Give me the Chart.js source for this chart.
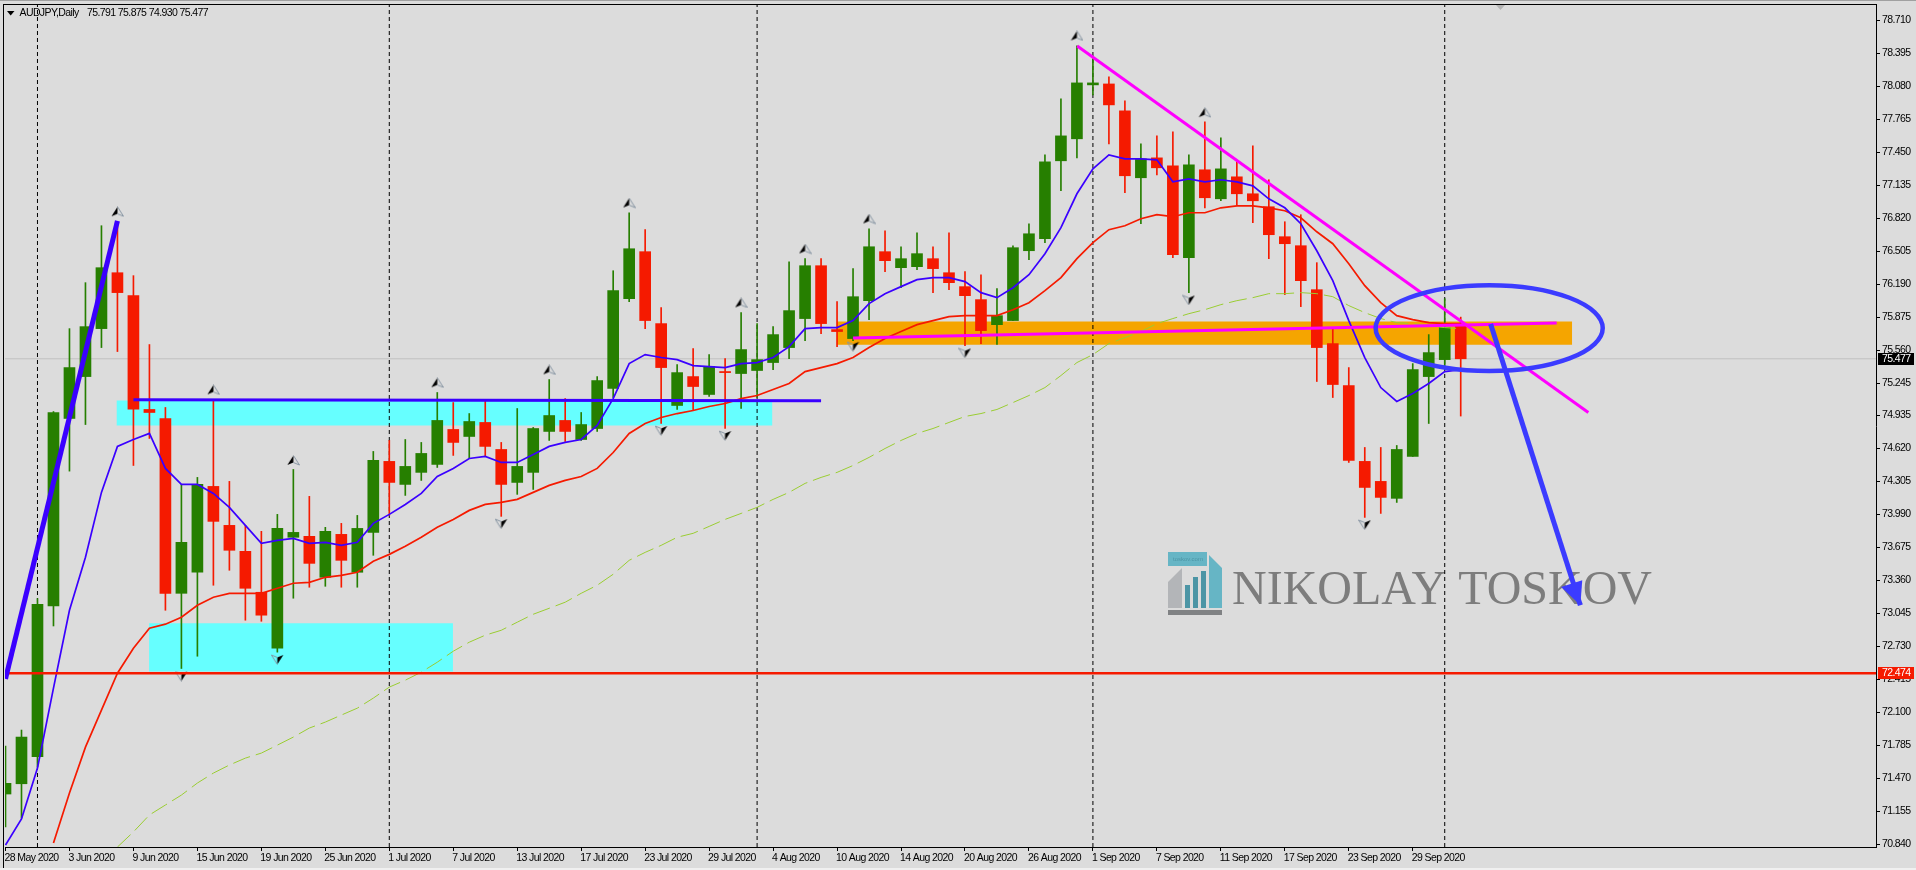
<!DOCTYPE html>
<html>
<head>
<meta charset="utf-8">
<title>AUDJPY Daily</title>
<script src="https://cdn.jsdelivr.net/npm/chart.js@4/dist/chart.umd.min.js"></script>
<style>
    html, body { margin: 0; padding: 0; background: #dcdcdc; overflow: hidden; }
    canvas { display: block; }
</style>
</head>
<body>
<canvas id="priceChart" width="1916" height="870"></canvas>
<script>
// Candles, one value per daily bar
const opens = [71.320,71.418,71.676,73.116,74.907,75.307,75.765,76.299,76.080,74.993,74.907,73.237,73.438,74.258,73.886,73.638,73.247,72.713,73.772,73.781,73.390,73.800,73.438,73.819,74.497,74.277,74.392,74.468,74.802,74.735,74.869,74.611,74.296,74.392,74.783,74.888,74.706,74.811,75.193,76.051,76.500,75.813,75.031,75.307,75.136,75.355,75.336,75.365,75.441,75.584,75.861,76.366,75.756,75.670,76.032,76.500,76.347,76.357,76.433,76.299,76.166,76.042,75.803,75.842,76.509,76.624,77.368,77.578,78.093,78.102,77.845,77.206,77.396,77.320,76.442,77.282,77.005,77.215,77.053,76.929,76.643,76.557,76.137,75.622,75.221,74.497,74.306,74.144,74.544,75.307,75.469,75.791];
const highs = [71.778,71.931,73.187,74.973,75.765,76.204,76.748,76.776,76.271,75.613,75.012,74.277,74.344,75.078,74.306,73.886,73.829,73.991,74.420,74.163,73.867,73.905,73.981,74.592,74.697,74.706,74.678,75.155,75.059,74.954,75.078,74.678,75.002,74.821,75.279,75.097,74.964,75.307,76.318,76.872,76.710,75.966,75.422,75.574,75.517,75.479,75.918,75.813,75.784,76.404,76.433,76.433,76.023,76.338,76.719,76.700,76.547,76.681,76.547,76.681,76.309,76.280,76.147,76.557,76.767,77.425,77.959,78.465,78.350,78.169,77.940,77.530,77.606,77.644,77.425,77.740,77.587,77.368,77.511,77.187,76.786,76.853,76.395,75.765,75.393,74.630,74.630,74.649,75.431,75.708,76.051,75.875];
const lows = [71.005,71.091,71.580,72.925,74.404,74.849,75.584,75.546,74.458,74.716,73.075,72.519,72.636,73.314,73.457,72.980,72.970,72.675,73.190,73.295,73.304,73.295,73.295,73.600,73.981,74.172,74.315,74.439,74.554,74.525,74.544,73.972,74.182,74.229,74.697,74.687,74.697,74.783,75.107,76.023,75.765,74.859,74.993,74.983,75.117,74.811,75.002,75.107,75.374,75.479,75.651,75.717,75.593,75.651,75.851,76.309,76.156,76.328,76.109,76.137,75.603,75.622,75.613,75.842,76.423,76.586,77.082,77.396,77.997,77.530,77.063,76.767,77.234,76.442,76.109,76.919,76.986,76.948,76.776,76.433,76.090,75.975,75.260,75.107,74.487,73.962,74.000,74.105,74.544,74.859,75.393,74.930];
const closes = [71.422,71.864,73.132,74.964,75.393,75.784,76.347,76.109,74.995,74.964,73.237,73.724,74.277,73.924,73.648,73.285,73.028,73.857,73.819,73.523,73.829,73.552,73.857,74.506,74.296,74.449,74.573,74.888,74.678,74.878,74.640,74.277,74.449,74.811,74.935,74.783,74.849,75.269,76.128,76.528,75.842,75.393,75.345,75.212,75.403,75.345,75.565,75.469,75.708,75.937,76.366,75.813,75.737,76.070,76.547,76.414,76.433,76.481,76.338,76.204,76.080,75.746,75.889,76.538,76.671,77.358,77.606,78.112,78.112,77.902,77.225,77.387,77.301,76.471,77.330,77.015,77.291,77.053,76.986,76.662,76.576,76.223,75.584,75.231,74.506,74.248,74.153,74.611,75.374,75.536,75.775,75.477];

// Moving averages, null where the line has not started yet
const fastMA = [70.833,71.082,71.568,72.331,73.075,73.581,74.201,74.640,74.706,74.764,74.430,74.277,74.277,74.191,74.058,73.886,73.714,73.743,73.762,73.714,73.724,73.695,73.724,73.905,73.991,74.086,74.191,74.353,74.430,74.525,74.544,74.487,74.487,74.563,74.640,74.678,74.706,74.840,75.097,75.431,75.517,75.489,75.469,75.412,75.403,75.393,75.431,75.441,75.489,75.593,75.765,75.775,75.775,75.842,76.004,76.099,76.166,76.233,76.252,76.252,76.214,76.109,76.061,76.156,76.280,76.481,76.729,77.053,77.291,77.425,77.387,77.387,77.377,77.167,77.196,77.167,77.187,77.167,77.129,77.005,76.919,76.767,76.509,76.223,75.842,75.489,75.202,75.069,75.145,75.241,75.355,75.374];
const midMA = [null,null,null,70.852,71.330,71.768,72.121,72.474,72.713,72.903,72.942,73.008,73.123,73.199,73.237,73.237,73.237,73.285,73.333,73.342,73.390,73.409,73.438,73.543,73.609,73.686,73.772,73.867,73.943,74.029,74.086,74.105,74.134,74.201,74.268,74.315,74.353,74.430,74.582,74.764,74.859,74.916,74.954,74.983,75.021,75.050,75.097,75.126,75.183,75.241,75.355,75.393,75.431,75.489,75.584,75.670,75.737,75.803,75.842,75.880,75.889,75.889,75.889,75.946,76.013,76.128,76.252,76.433,76.586,76.710,76.748,76.814,76.853,76.834,76.872,76.872,76.919,76.938,76.938,76.919,76.891,76.824,76.690,76.576,76.385,76.175,76.013,75.889,75.851,75.822,75.813,75.813];
const slowMA = [null,null,null,null,null,null,null,70.814,70.958,71.120,71.215,71.310,71.425,71.520,71.597,71.663,71.711,71.787,71.864,71.950,72.007,72.074,72.140,72.236,72.341,72.407,72.484,72.579,72.684,72.770,72.837,72.884,72.961,73.037,73.094,73.152,73.237,73.314,73.419,73.552,73.628,73.695,73.772,73.810,73.876,73.943,74.000,74.058,74.134,74.201,74.287,74.344,74.392,74.458,74.535,74.620,74.697,74.764,74.811,74.869,74.926,74.954,74.993,75.059,75.126,75.202,75.317,75.441,75.517,75.622,75.679,75.737,75.813,75.861,75.908,75.946,75.994,76.032,76.061,76.099,76.099,76.109,76.099,76.070,75.985,75.918,75.861,75.822,75.813,75.794,75.775,75.765];

// Fractal arrows: bar number and price
const fractalUpBars = [7,13,18,27,34,39,46,50,54,67,75];
const fractalUpPrices = [76.881,75.180,74.506,75.247,75.371,76.964,76.010,76.525,76.812,78.560,77.828];
const fractalDownBars = [11,17,31,41,45,53,60,74,85];
const fractalDownPrices = [72.446,72.605,73.902,74.792,74.744,75.596,75.533,76.039,73.893];

// Axis labels
const dateBars = [0,4,8,12,16,20,24,28,32,36,40,44,48,52,56,60,64,68,72,76,80,84,88];
const dateLabels = ["28 May 2020","3 Jun 2020","9 Jun 2020","15 Jun 2020","19 Jun 2020","25 Jun 2020","1 Jul 2020","7 Jul 2020","13 Jul 2020","17 Jul 2020","23 Jul 2020","29 Jul 2020","4 Aug 2020","10 Aug 2020","14 Aug 2020","20 Aug 2020","26 Aug 2020","1 Sep 2020","7 Sep 2020","11 Sep 2020","17 Sep 2020","23 Sep 2020","29 Sep 2020"];
const priceTicks = [78.710,78.395,78.080,77.765,77.450,77.135,76.820,76.505,76.190,75.875,75.560,75.245,74.935,74.620,74.305,73.990,73.675,73.360,73.045,72.730,72.415,72.100,71.785,71.470,71.155,70.840];
const monthBars = [2,24,47,68,90];

// Levels and drawings, in bar number and price
const lastPrice = 75.477;
const supportPrice = 72.474;
const cyanTopZone = { from: 6.94, to: 47.96, top: 75.078, bottom: 74.840 };
const cyanLowZone = { from: 8.98, to: 27.98, top: 72.951, bottom: 72.490 };
const orangeZone = { from: 51.97, to: 97.97, top: 75.832, bottom: 75.612 };
const blueLevel = [{ x: 8, y: 75.085 }, { x: 51, y: 75.075 }];
const blueTrend = [{ x: 0, y: 72.42 }, { x: 7, y: 76.795 }];
const pinkTrend = [{ x: 67.02, y: 78.465 }, { x: 98.98, y: 74.964 }];
const pinkLevel = [{ x: 53, y: 75.676 }, { x: 97, y: 75.819 }];
const circle = { x: 92.78, y: 75.77, rx: 7.1, ry: 0.41 };
const forecast = { from: { x: 92.87, y: 75.81 }, tip: { x: 98.48, y: 73.122 }, wingA: { x: 97.28, y: 73.297 }, wingB: { x: 98.6, y: 73.361 } };

const yMin = 70.814;
const yMax = 78.856;

const GREEN = "#267f00";
const RED = "#f51a00";
const DRAW_BLUE = "#3b3bff";
const axisFont = { family: "'Liberation Sans', sans-serif", size: 10.5 };
const fontText = "10.5px 'Liberation Sans', sans-serif";

const candleColors = closes.map((c, i) => (c >= opens[i] ? GREEN : RED));

function maPoints(values) {
    return values.map((v, i) => ({ x: i, y: v }));
}

function zoneDataset(zone, color) {
    return {
        type: "line",
        data: [{ x: zone.from, y: zone.top }, { x: zone.to, y: zone.top }],
        borderWidth: 0,
        pointRadius: 0,
        backgroundColor: color,
        fill: { value: zone.bottom },
        order: 100
    };
}

function drawingDataset(points, color, width, order) {
    return {
        type: "line",
        data: points,
        borderColor: color,
        borderWidth: width,
        pointRadius: 0,
        tension: 0,
        order: order
    };
}

// Small arrow glyph used for the fractals
function makeFractalGlyph() {
    const c = document.createElement("canvas");
    c.width = 13;
    c.height = 11;
    const g = c.getContext("2d");
    g.beginPath();
    g.moveTo(6.5, 0.5);
    g.lineTo(0.5, 10);
    g.lineTo(6.5, 7.5);
    g.closePath();
    g.fillStyle = "#000";
    g.fill();
    g.beginPath();
    g.moveTo(6.5, 0.5);
    g.lineTo(12.5, 10);
    g.lineTo(6.5, 7.5);
    g.strokeStyle = "#8795a3";
    g.lineWidth = 1;
    g.stroke();
    return c;
}
const fractalGlyph = makeFractalGlyph();

function pairs(bars, prices) {
    return bars.map((b, i) => ({ x: b, y: prices[i] }));
}

// Watermark, frame, price tags and hand drawn shapes
const chartExtras = {
    id: "chartExtras",
    beforeDraw(chart) {
        // squeezes the axis text to the terminal's narrow look
        chart.ctx.letterSpacing = "-0.6px";
    },
    beforeDatasetsDraw(chart) {
        const ctx = chart.ctx;
        ctx.save();
        ctx.letterSpacing = "0px";
        ctx.fillStyle = "#808284";
        ctx.fillRect(1168, 610, 54, 5);
        ctx.fillStyle = "#b3b5b8";
        ctx.beginPath();
        ctx.moveTo(1168, 582);
        ctx.lineTo(1182, 568);
        ctx.lineTo(1182, 608);
        ctx.lineTo(1168, 608);
        ctx.fill();
        ctx.fillStyle = "#66b5c5";
        ctx.fillRect(1168, 552, 39, 14);
        ctx.beginPath();
        ctx.moveTo(1209, 555);
        ctx.lineTo(1222, 568);
        ctx.lineTo(1222, 608);
        ctx.lineTo(1209, 608);
        ctx.fill();
        ctx.fillStyle = "#4c95a5";
        ctx.fillRect(1185, 585, 5, 23);
        ctx.fillRect(1193, 577, 5, 31);
        ctx.fillRect(1201, 571, 5, 37);
        ctx.font = "6px 'Liberation Sans', sans-serif";
        ctx.textBaseline = "middle";
        ctx.fillText("toskov.com", 1173, 559.5);
        ctx.fillStyle = "#7d7d7d";
        ctx.font = "48px 'Liberation Serif', serif";
        ctx.textBaseline = "alphabetic";
        ctx.fillText("NIKOLAY TOSKOV", 1232, 604);
        ctx.restore();
    },
    afterDraw(chart) {
        const ctx = chart.ctx;
        const xs = chart.scales.x;
        const ys = chart.scales.y;
        const area = chart.chartArea;
        ctx.save();

        // hand drawn ellipse and forecast arrow
        ctx.strokeStyle = DRAW_BLUE;
        ctx.lineWidth = 4.5;
        ctx.beginPath();
        ctx.ellipse(xs.getPixelForValue(circle.x), ys.getPixelForValue(circle.y),
            xs.getPixelForValue(circle.x + circle.rx) - xs.getPixelForValue(circle.x),
            ys.getPixelForValue(circle.y - circle.ry) - ys.getPixelForValue(circle.y), 0, 0, Math.PI * 2);
        ctx.stroke();

        ctx.lineWidth = 5;
        ctx.beginPath();
        ctx.moveTo(xs.getPixelForValue(forecast.from.x), ys.getPixelForValue(forecast.from.y));
        ctx.lineTo(xs.getPixelForValue(forecast.tip.x), ys.getPixelForValue(forecast.tip.y));
        ctx.stroke();
        ctx.fillStyle = DRAW_BLUE;
        ctx.beginPath();
        ctx.moveTo(xs.getPixelForValue(forecast.tip.x), ys.getPixelForValue(forecast.tip.y));
        ctx.lineTo(xs.getPixelForValue(forecast.wingA.x), ys.getPixelForValue(forecast.wingA.y));
        ctx.lineTo(xs.getPixelForValue(forecast.wingB.x), ys.getPixelForValue(forecast.wingB.y));
        ctx.closePath();
        ctx.fill();

        // frame
        ctx.fillStyle = "#000";
        ctx.fillRect(3, 4, 1874, 1);
        ctx.fillRect(3, 4, 1, 864);
        ctx.fillStyle = "#a0a0a0";
        ctx.fillRect(0, 0, 1916, 1);
        ctx.fillStyle = "#f0f0f0";
        ctx.fillRect(0, 868, 1916, 2);

        // chart shift marker
        ctx.fillStyle = "#b4b4b4";
        ctx.beginPath();
        ctx.moveTo(1496, 5);
        ctx.lineTo(1505, 5);
        ctx.lineTo(1500.5, 10);
        ctx.fill();

        // symbol line
        ctx.fillStyle = "#000";
        ctx.beginPath();
        ctx.moveTo(7, 11);
        ctx.lineTo(14.5, 11);
        ctx.lineTo(10.7, 15.5);
        ctx.fill();
        ctx.font = fontText;
        ctx.textBaseline = "middle";
        ctx.fillText("AUDJPY,Daily", 19.5, 13);
        ctx.fillText("75.791 75.875 74.930 75.477", 87, 13);

        // price tags on the axis
        [[lastPrice, "#000"], [supportPrice, RED]].forEach(function (tag) {
            const y = Math.round(ys.getPixelForValue(tag[0]));
            ctx.fillStyle = tag[1];
            ctx.fillRect(area.right + 2, y - 6, 36, 12);
            ctx.fillStyle = "#fff";
            ctx.fillText(tag[0].toFixed(3), 1882, y + 0.5);
        });
        ctx.restore();
    }
};

const datasets = [
    zoneDataset(cyanTopZone, "#66ffff"),
    zoneDataset(cyanLowZone, "#66ffff"),
    zoneDataset(orangeZone, "#f5a500"),
    {
        type: "line",
        data: monthBars.flatMap(b => [{ x: b, y: yMin }, { x: b, y: yMax }, { x: b, y: null }]),
        borderColor: "#000",
        borderWidth: 1,
        borderDash: [4, 3],
        pointRadius: 0,
        spanGaps: false,
        order: 90
    },
    drawingDataset([{ x: -1, y: lastPrice }, { x: 117, y: lastPrice }], "#c0c0c0", 1, 85),
    {
        label: "wicks",
        data: lows.map((l, i) => ({ x: i, y: [l, highs[i]] })),
        backgroundColor: candleColors,
        barThickness: 1,
        maxBarThickness: 1,
        grouped: false,
        order: 50
    },
    {
        label: "bodies",
        data: opens.map((o, i) => ({ x: i, y: [o, closes[i]] })),
        backgroundColor: candleColors,
        barThickness: 11,
        maxBarThickness: 11,
        grouped: false,
        order: 49
    },
    {
        type: "line",
        data: maPoints(slowMA),
        borderColor: "#9acd32",
        borderWidth: 1,
        borderDash: [18, 6],
        pointRadius: 0,
        tension: 0,
        order: 40
    },
    drawingDataset(maPoints(midMA), RED, 1.7, 39),
    drawingDataset(maPoints(fastMA), "#3a00ff", 1.7, 38),
    {
        type: "scatter",
        data: pairs(fractalUpBars, fractalUpPrices),
        pointStyle: fractalGlyph,
        order: 30
    },
    {
        type: "scatter",
        data: pairs(fractalDownBars, fractalDownPrices),
        pointStyle: fractalGlyph,
        rotation: 180,
        order: 30
    },
    drawingDataset([{ x: -1, y: supportPrice }, { x: 117, y: supportPrice }], RED, 2.5, 20),
    drawingDataset(blueLevel, "#3a00ff", 3, 19),
    drawingDataset(blueTrend, "#3a00ff", 5, 18),
    drawingDataset(pinkLevel, "#ff00ff", 3, 17),
    drawingDataset(pinkTrend, "#ff00ff", 3, 16)
];

new Chart(document.getElementById("priceChart"), {
    type: "bar",
    data: { datasets: datasets },
    plugins: [chartExtras],
    options: {
        responsive: false,
        animation: false,
        devicePixelRatio: 1,
        events: [],
        layout: { padding: { left: 4, top: 4, right: 0, bottom: 0 } },
        plugins: { legend: { display: false }, tooltip: { enabled: false }, title: { display: false } },
        scales: {
            x: {
                type: "linear",
                offset: false,
                min: -0.03125,
                max: 116.96875,
                afterFit(scale) {
                    scale.height = 23;
                    scale.paddingLeft = 0;
                    scale.paddingRight = 0;
                },
                afterBuildTicks(scale) { scale.ticks = dateBars.map(b => ({ value: b })); },
                grid: { offset: false, drawOnChartArea: false, drawTicks: true, tickLength: 4, color: "#000" },
                border: { color: "#000" },
                ticks: {
                    autoSkip: false,
                    maxRotation: 0,
                    align: "start",
                    labelOffset: -1,
                    padding: 1,
                    color: "#000",
                    font: axisFont,
                    callback(value) { return dateLabels[dateBars.indexOf(value)]; }
                }
            },
            y: {
                type: "linear",
                position: "right",
                min: yMin,
                max: yMax,
                afterFit(scale) {
                    scale.width = 40;
                    scale.paddingTop = 0;
                    scale.paddingBottom = 0;
                },
                afterBuildTicks(scale) { scale.ticks = priceTicks.map(p => ({ value: p })); },
                grid: { drawOnChartArea: false, drawTicks: true, tickLength: 4, color: "#000" },
                border: { color: "#000" },
                ticks: {
                    autoSkip: false,
                    padding: 2,
                    color: "#000",
                    font: axisFont,
                    callback(value) { return value.toFixed(3); }
                }
            }
        }
    }
});
</script>
</body>
</html>
